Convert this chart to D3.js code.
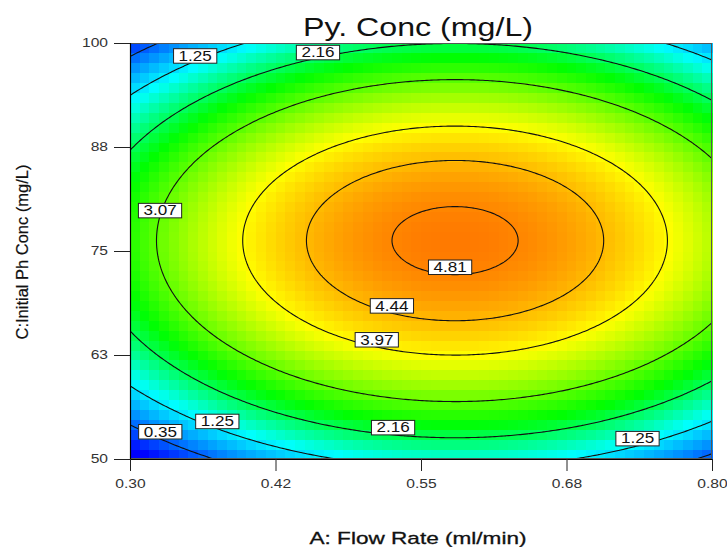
<!DOCTYPE html>
<html>
<head>
<meta charset="utf-8">
<script src="https://cdn.jsdelivr.net/npm/d3@7"></script>
<style>
  html, body { margin: 0; padding: 0; background: #fff; }
  svg { display: block; }
  text { font-family: "Liberation Sans", Arial, sans-serif; }
</style>
</head>
<body>
<svg id="chart" width="727" height="547"></svg>
<script>
// ---------------- data ----------------
const chartTitle = "Py. Conc (mg/L)";
const xTitle = "A: Flow Rate (ml/min)";
const yTitle = "C:Initial Ph Conc (mg/L)";
const xDomain = [0.30, 0.80];
const yDomain = [50, 100];
const xTickValues = [0.30, 0.425, 0.55, 0.675, 0.80];
const xTickLabels = ["0.30", "0.42", "0.55", "0.68", "0.80"];
const yTickValues = [50, 62.5, 75, 87.5, 100];
const yTickLabels = ["50", "63", "75", "88", "100"];
// fitted quadratic response surface in coded units
const modelTerms = ["Intercept", "A", "C", "A2", "C2", "AC"];
const modelCoefs = [4.86, 0.405, 0.304, -1.73, -3.04, 0.0];
const contourLevels = [0.35, 1.25, 2.16, 3.07, 3.97, 4.44, 4.81];
// contour label annotations: level, flow rate position, which side of the contour
const labelLevels = [1.25, 2.16, 3.07, 4.81, 4.44, 3.97, 1.25, 0.35, 2.16, 1.25];
const labelFlow   = [0.356, 0.4615, 0.3258, 0.575, 0.525, 0.512, 0.375, 0.326, 0.526, 0.736];
const labelSide   = ["upper", "upper", "upper", "lower", "lower", "lower", "lower", "lower", "lower", "lower"];
const labelText   = ["1.25", "2.16", "3.07", "4.81", "4.44", "3.97", "1.25", "0.35", "2.16", "1.25"];
// colour ramp
const colorStops = [-0.3, 1.4, 2.55, 3.95, 5.75];
const colorRange = ["#0000ff", "#00ffff", "#00ff00", "#ffff00", "#ff0000"];
const gridCols = 60, gridRows = 42;

// ---------------- layout ----------------
const svg = d3.select("#chart");
const L = 130, R = 712, T = 43, B = 459;
const x = d3.scaleLinear().domain(xDomain).range([L, R]);
const y = d3.scaleLinear().domain(yDomain).range([B, T]);
const color = d3.scaleLinear().domain(colorStops).range(colorRange)
  .interpolate(d3.interpolateRgb).clamp(true);

const [b0, bA, bC, bAA, bCC, bAC] = modelCoefs;
const codeA = v => (v - (xDomain[0] + xDomain[1]) / 2) / ((xDomain[1] - xDomain[0]) / 2);
const codeC = v => (v - (yDomain[0] + yDomain[1]) / 2) / ((yDomain[1] - yDomain[0]) / 2);
const uncodeC = c => (yDomain[0] + yDomain[1]) / 2 + c * (yDomain[1] - yDomain[0]) / 2;
const model = (a, c) => b0 + bA * a + bC * c + bAA * a * a + bCC * c * c + bAC * a * c;

// ---------------- heat map cells ----------------
const cellW = (xDomain[1] - xDomain[0]) / gridCols;
const cellH = (yDomain[1] - yDomain[0]) / gridRows;
const cells = [];
for (let j = 0; j < gridRows; j++) {
  for (let i = 0; i < gridCols; i++) {
    const x0 = xDomain[0] + i * cellW, y0 = yDomain[0] + j * cellH;
    const v = model(codeA(x0 + cellW / 2), codeC(y0 + cellH / 2));
    cells.push({x0, x1: x0 + cellW, y0, y1: y0 + cellH, v});
  }
}
svg.append("g").selectAll("rect").data(cells).join("rect")
  .attr("x", d => x(d.x0))
  .attr("y", d => y(d.y1))
  .attr("width", d => x(d.x1) - x(d.x0) + 0.5)
  .attr("height", d => y(d.y0) - y(d.y1) + 0.5)
  .attr("fill", d => color(d.v))
  .attr("shape-rendering", "crispEdges");

// ---------------- contours ----------------
svg.append("clipPath").attr("id", "plotClip")
  .append("rect").attr("x", L).attr("y", T).attr("width", R - L).attr("height", B - T);

const ext = 0.1; // extend grid beyond plot so borders are clipped away
const nx = 300, ny = 240;
const xe0 = xDomain[0] - ext * (xDomain[1] - xDomain[0]), xe1 = xDomain[1] + ext * (xDomain[1] - xDomain[0]);
const ye0 = yDomain[0] - ext * (yDomain[1] - yDomain[0]), ye1 = yDomain[1] + ext * (yDomain[1] - yDomain[0]);
const gx = i => xe0 + (i) * (xe1 - xe0) / (nx - 1);
const gy = j => ye0 + (j) * (ye1 - ye0) / (ny - 1);
const vals = new Float64Array(nx * ny);
for (let j = 0; j < ny; j++) for (let i = 0; i < nx; i++)
  vals[j * nx + i] = model(codeA(gx(i)), codeC(gy(j)));
const contourGen = d3.contours().size([nx, ny]).thresholds(contourLevels);
const proj = d3.geoTransform({
  point: function(px, py) { this.stream.point(x(gx(px - 0.5)), y(gy(py - 0.5))); }
});
const pathGen = d3.geoPath(proj);
svg.append("g").attr("clip-path", "url(#plotClip)")
  .selectAll("path").data(contourGen(Array.from(vals))).join("path")
  .attr("d", pathGen)
  .attr("fill", "none")
  .attr("stroke", "#111")
  .attr("stroke-width", 1.1);

// ---------------- frame & axes ----------------
svg.append("rect").attr("x", L + 0.5).attr("y", T + 0.5).attr("width", R - L - 1).attr("height", B - T - 1)
  .attr("fill", "none").attr("stroke", "#555").attr("stroke-width", 1);

const stretch = (sel, f) => sel.each(function() {
  const w = this.getComputedTextLength();
  d3.select(this).attr("textLength", w * f).attr("lengthAdjust", "spacingAndGlyphs");
});

const yAxis = svg.append("g").attr("transform", `translate(${L},0)`)
  .call(d3.axisLeft(y).tickValues(yTickValues).tickFormat((d, i) => yTickLabels[i]).tickSize(16).tickPadding(6));
const xAxis = svg.append("g").attr("transform", `translate(0,${B})`)
  .call(d3.axisBottom(x).tickValues(xTickValues).tickFormat((d, i) => xTickLabels[i]).tickSize(12).tickPadding(8));
[yAxis, xAxis].forEach(ax => {
  ax.select(".domain").attr("stroke", "#000").attr("stroke-width", 1.2);
  ax.selectAll(".tick line").attr("stroke", "#222");
  ax.selectAll(".tick text").attr("fill", "#333").attr("font-size", 12)
    .attr("font-family", "'Liberation Sans', Arial, sans-serif");
  stretch(ax.selectAll(".tick text"), 1.3);
});
yAxis.select(".domain").attr("d", `M0.5,${T}V${B}`);
xAxis.select(".domain").attr("d", `M${L},0.5H${R}`);

// ---------------- contour labels ----------------
const lblG = svg.append("g");
labelLevels.forEach((lev, k) => {
  const a = codeA(labelFlow[k]);
  const qa = bCC, qb = bC + bAC * a, qc = b0 + bA * a + bAA * a * a - lev;
  const disc = Math.sqrt(Math.max(0, qb * qb - 4 * qa * qc));
  const r1 = (-qb + disc) / (2 * qa), r2 = (-qb - disc) / (2 * qa);
  const cc = labelSide[k] === "upper" ? Math.max(r1, r2) : Math.min(r1, r2);
  const px = x(labelFlow[k]), py = y(uncodeC(cc));
  const lift = labelSide[k] === "upper" ? 5.5 : 7.5;
  const g = lblG.append("g").attr("transform", `translate(${px},${py - lift})`);
  const rect = g.append("rect");
  const t = g.append("text").text(labelText[k])
    .attr("text-anchor", "middle").attr("dy", "0.36em")
    .attr("font-size", 14).attr("fill", "#111");
  const w = t.node().getComputedTextLength() * 1.22;
  t.attr("textLength", w).attr("lengthAdjust", "spacingAndGlyphs");
  rect.attr("x", -w / 2 - 5).attr("y", -7).attr("width", w + 10).attr("height", 14.5)
    .attr("fill", "#fff").attr("stroke", "#222").attr("stroke-width", 1);
});

// ---------------- titles ----------------
svg.append("text").text(chartTitle)
  .attr("x", 418).attr("y", 36).attr("text-anchor", "middle")
  .attr("font-size", 26).attr("fill", "#111")
  .attr("textLength", 230).attr("lengthAdjust", "spacingAndGlyphs");
svg.append("text").text(xTitle)
  .attr("x", 418).attr("y", 544).attr("text-anchor", "middle")
  .attr("font-size", 17).attr("fill", "#111")
  .attr("stroke", "#111").attr("stroke-width", 0.3)
  .attr("textLength", 217).attr("lengthAdjust", "spacingAndGlyphs");
svg.append("text").text(yTitle)
  .attr("transform", "translate(28,252) rotate(-90)").attr("text-anchor", "middle")
  .attr("font-size", 16.5).attr("fill", "#111")
  .attr("stroke", "#111").attr("stroke-width", 0.2)
  .attr("textLength", 175).attr("lengthAdjust", "spacingAndGlyphs");
</script>
</body>
</html>
